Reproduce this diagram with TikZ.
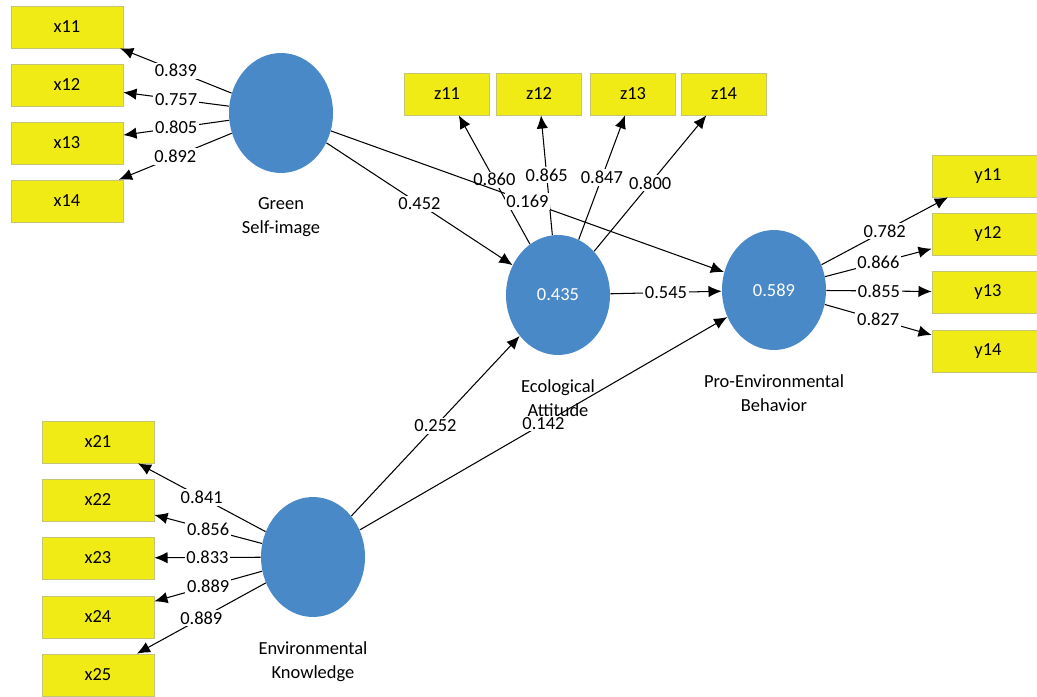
\documentclass[tikz,border=0pt]{standalone}
\usepackage{fontspec}
\setmainfont{Carlito}
\usepackage{tikz}
\usetikzlibrary{shapes,arrows,arrows.meta,positioning}
\definecolor{boxyellow}{RGB}{240,235,20}
\definecolor{boxedge}{RGB}{196,196,120}
\definecolor{lvblue}{RGB}{74,137,199}
\tikzstyle{mvar} = [rectangle, draw=boxedge, fill=boxyellow, minimum width=2.24cm, minimum height=0.84cm, inner sep=0pt, font=\fontsize{10.5}{12}\selectfont]
\tikzstyle{zvar} = [mvar, minimum width=1.7cm]
\tikzstyle{lvar} = [ellipse, fill=lvblue, text=white, minimum width=2.08cm, minimum height=2.4cm, inner sep=0pt, font=\fontsize{10.5}{12}\selectfont]
\tikzstyle{lvname} = [align=center, text=black, font=\fontsize{10.5}{14}\selectfont, inner sep=1pt, yshift=-12.5pt]
\tikzstyle{line} = [draw, line width=0.6pt, -{Latex[length=7.5pt,width=6.5pt]}]
\tikzstyle{coef} = [fill=white, inner sep=1pt, font=\fontsize{10.5}{12}\selectfont, midway]

\begin{document}
\begin{tikzpicture}[x=0.02cm, y=-0.02cm]
			\useasboundingbox (0,0) rectangle (1037,696);
			\node [lvar, label={[lvname]below:Green\\Self-image}] (gsi) at (281,113) {};
			\node [lvar, label={[lvname]below:Ecological\\Attitude}] (ea) at (558,295) {0.435};
			\node [lvar, label={[lvname]below:Pro-Environmental\\Behavior}] (peb) at (774,290) {0.589};
			\node [lvar, label={[lvname]below:Environmental\\Knowledge}] (ek) at (313,557) {};
			
			\node [mvar] (x11) at (67,27) {x11};
			\node [mvar] (x12) at (67,85) {x12};
			\node [mvar] (x13) at (67,143) {x13};
			\node [mvar] (x14) at (67,201) {x14};
			
			\node [zvar] (z11) at (447,94) {z11};
			\node [zvar] (z12) at (539,94) {z12};
			\node [zvar] (z13) at (633,94) {z13};
			\node [zvar] (z14) at (724,94) {z14};
			
			\node [mvar] (y11) at (988,176) {y11};
			\node [mvar] (y12) at (988,234) {y12};
			\node [mvar] (y13) at (988,292) {y13};
			\node [mvar] (y14) at (988,351) {y14};
			
			\node [mvar] (x21) at (98,442) {x21};
			\node [mvar] (x22) at (98,500) {x22};
			\node [mvar] (x23) at (98,558) {x23};
			\node [mvar] (x24) at (98,617) {x24};
			\node [mvar] (x25) at (98,675) {x25};
			
			\path [line] (gsi) -- node [coef] {0.839} (x11);
			\path [line] (gsi) -- node [coef] {0.757} (x12);
			\path [line] (gsi) -- node [coef] {0.805} (x13);
			\path [line] (gsi) -- node [coef] {0.892} (x14);
			
			\path [line] (ea) -- node [coef] {0.860} (z11);
			\path [line] (ea) -- node [coef] {0.865} (z12);
			\path [line] (ea) -- node [coef] {0.847} (z13);
			\path [line] (ea) -- node [coef] {0.800} (z14);
			
			\path [line] (peb) -- node [coef] {0.782} (y11);
			\path [line] (peb) -- node [coef] {0.866} (y12);
			\path [line] (peb) -- node [coef] {0.855} (y13);
			\path [line] (peb) -- node [coef] {0.827} (y14);
			
			\path [line] (ek) -- node [coef] {0.841} (x21);
			\path [line] (ek) -- node [coef] {0.856} (x22);
			\path [line] (ek) -- node [coef] {0.833} (x23);
			\path [line] (ek) -- node [coef] {0.889} (x24);
			\path [line] (ek) -- node [coef] {0.889} (x25);
			
			\path [line] (gsi) -- node [coef] {0.452} (ea);
			\path [line] (gsi) -- node [coef] {0.169} (peb);
			\path [line] (ea) -- node [coef] {0.545} (peb);
			\path [line] (ek) -- node [coef] {0.252} (ea);
			\path [line] (ek) -- node [coef] {0.142} (peb);
		\end{tikzpicture}
\end{document}
